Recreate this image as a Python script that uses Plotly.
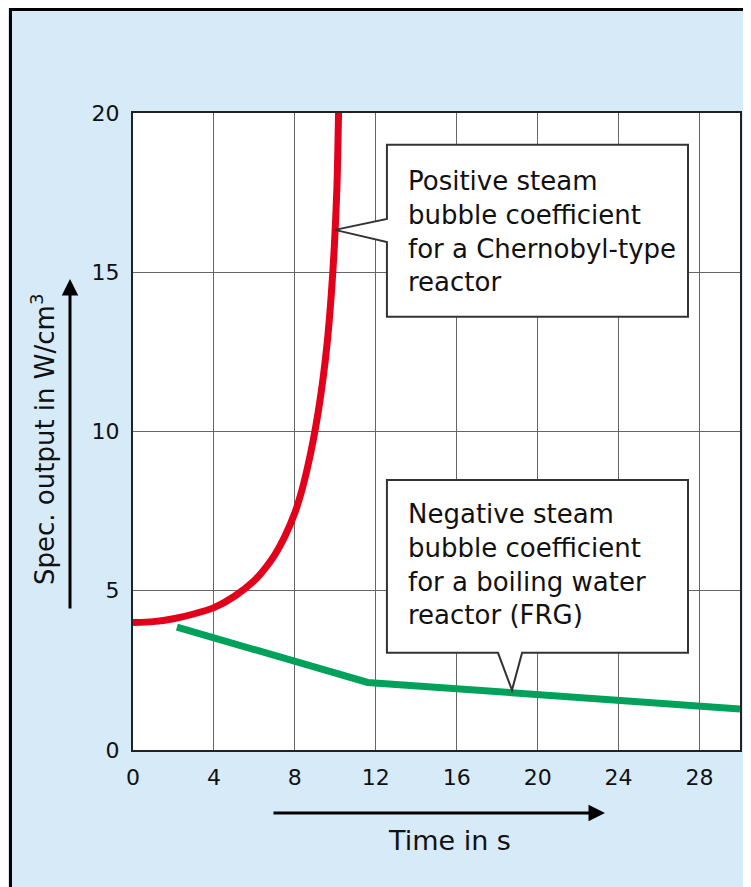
import plotly.graph_objects as go

# ---- data ----
red_x = [0, 1, 2, 3, 4, 5, 6, 6.5, 7, 7.5, 8, 8.3, 8.6, 8.9, 9.15, 9.4, 9.6, 9.8, 9.95, 10.08, 10.17]
red_y = [4.0, 4.03, 4.12, 4.27, 4.47, 4.82, 5.32, 5.68, 6.12, 6.7, 7.45, 8.05, 8.8, 9.7, 10.6, 11.7, 12.8, 14.3, 15.8, 17.7, 20.4]
green_x = [2.17, 11.6, 30]
green_y = [3.86, 2.12, 1.29]
x_ticks = [0, 4, 8, 12, 16, 20, 24, 28]
y_ticks = [0, 5, 10, 15, 20]
callout_pos_text = "Positive steam<br>bubble coefficient<br>for a Chernobyl-type<br>reactor"
callout_neg_text = "Negative steam<br>bubble coefficient<br>for a boiling water<br>reactor (FRG)"
x_title = "Time in s"
y_title = "Spec. output in W/cm<sup>3</sup>"

FONT = "DejaVu Sans"
BG = "#d6eaf8"
OFF = 8  # default page (body) margin of the html page
W, H = 751, 887
# plot area in page pixels: x 133..740, y 113..750
L = 133 - OFF
T = 113 - OFF
R = W - (740 - OFF)
B = H - (750 - OFF)
PW, PH = W - L - R, H - T - B


def px(xp):
    """page pixel x -> paper coordinate"""
    return (xp - OFF - L) / PW


def py(yp):
    """page pixel y -> paper coordinate"""
    return (H - B - (yp - OFF)) / PH


fig = go.Figure()
fig.add_trace(go.Scatter(x=red_x, y=red_y, mode="lines",
                         line=dict(color="#e2001a", width=7, shape="spline", smoothing=0.8),
                         hoverinfo="skip", showlegend=False))
fig.add_trace(go.Scatter(x=green_x, y=green_y, mode="lines",
                         line=dict(color="#00a15a", width=7),
                         hoverinfo="skip", showlegend=False))

shapes = []
# callout boxes (data coordinates)
shapes.append(dict(type="path", xref="x", yref="y", layer="above",
                   path="M 12.55,19.0 L 27.43,19.0 L 27.43,13.6 L 12.55,13.6 L 12.55,15.95 L 9.98,16.33 L 12.55,16.67 Z",
                   fillcolor="white", line=dict(color="#333", width=2)))
shapes.append(dict(type="path", xref="x", yref="y", layer="above",
                   path="M 12.55,8.48 L 27.43,8.48 L 27.43,3.05 L 19.23,3.05 L 18.73,1.88 L 18.04,3.05 L 12.55,3.05 Z",
                   fillcolor="white", line=dict(color="#333", width=2)))
# outer black frame (top and left edges)
shapes.append(dict(type="line", xref="paper", yref="paper", layer="above",
                   x0=px(10), x1=px(W + 30), y0=py(9.5), y1=py(9.5),
                   line=dict(color="black", width=3)))
shapes.append(dict(type="line", xref="paper", yref="paper", layer="above",
                   x0=px(10.5), x1=px(10.5), y0=py(8), y1=py(H + 30),
                   line=dict(color="black", width=3)))

annotations = [
    dict(x=13.49, y=16.27, xref="x", yref="y", text=callout_pos_text, showarrow=False,
         xanchor="left", yanchor="middle", align="left",
         font=dict(family=FONT, size=26, color="#111")),
    dict(x=13.49, y=5.82, xref="x", yref="y", text=callout_neg_text, showarrow=False,
         xanchor="left", yanchor="middle", align="left",
         font=dict(family=FONT, size=26, color="#111")),
    dict(x=px(450), y=py(840), xref="paper", yref="paper", text=x_title, showarrow=False,
         xanchor="center", yanchor="middle", font=dict(family=FONT, size=27, color="#111")),
    dict(x=px(43), y=py(440), xref="paper", yref="paper", text=y_title, showarrow=False,
         textangle=-90, xanchor="center", yanchor="middle",
         font=dict(family=FONT, size=26, color="#111")),
    # axis arrows
    dict(x=px(605), y=py(813), xref="paper", yref="paper", text="", showarrow=True,
         ax=-333, ay=0, arrowhead=2, arrowwidth=3, arrowsize=1.1, arrowcolor="black"),
    dict(x=px(70), y=py(279), xref="paper", yref="paper", text="", showarrow=True,
         ax=0, ay=331, arrowhead=2, arrowwidth=3, arrowsize=1.1, arrowcolor="black"),
]

axis_common = dict(showgrid=True, gridcolor="#666666", gridwidth=1, zeroline=False,
                   showline=True, linecolor="#222", linewidth=2, mirror=True,
                   ticks="", tickfont=dict(family=FONT, size=22, color="#111"),
                   fixedrange=True)

fig.update_layout(
    width=W, height=H,
    margin=dict(l=L, r=R, t=T, b=B, pad=0),
    paper_bgcolor=BG, plot_bgcolor="white",
    xaxis=dict(range=[0, 30], tickvals=x_ticks, ticktext=[str(v) for v in x_ticks],
               ticklabelstandoff=7, **axis_common),
    yaxis=dict(range=[0, 20], tickvals=y_ticks, ticktext=[str(v) for v in y_ticks],
               ticklabelstandoff=7, **axis_common),
    shapes=shapes, annotations=annotations, showlegend=False,
)

fig.write_html("out.html")
